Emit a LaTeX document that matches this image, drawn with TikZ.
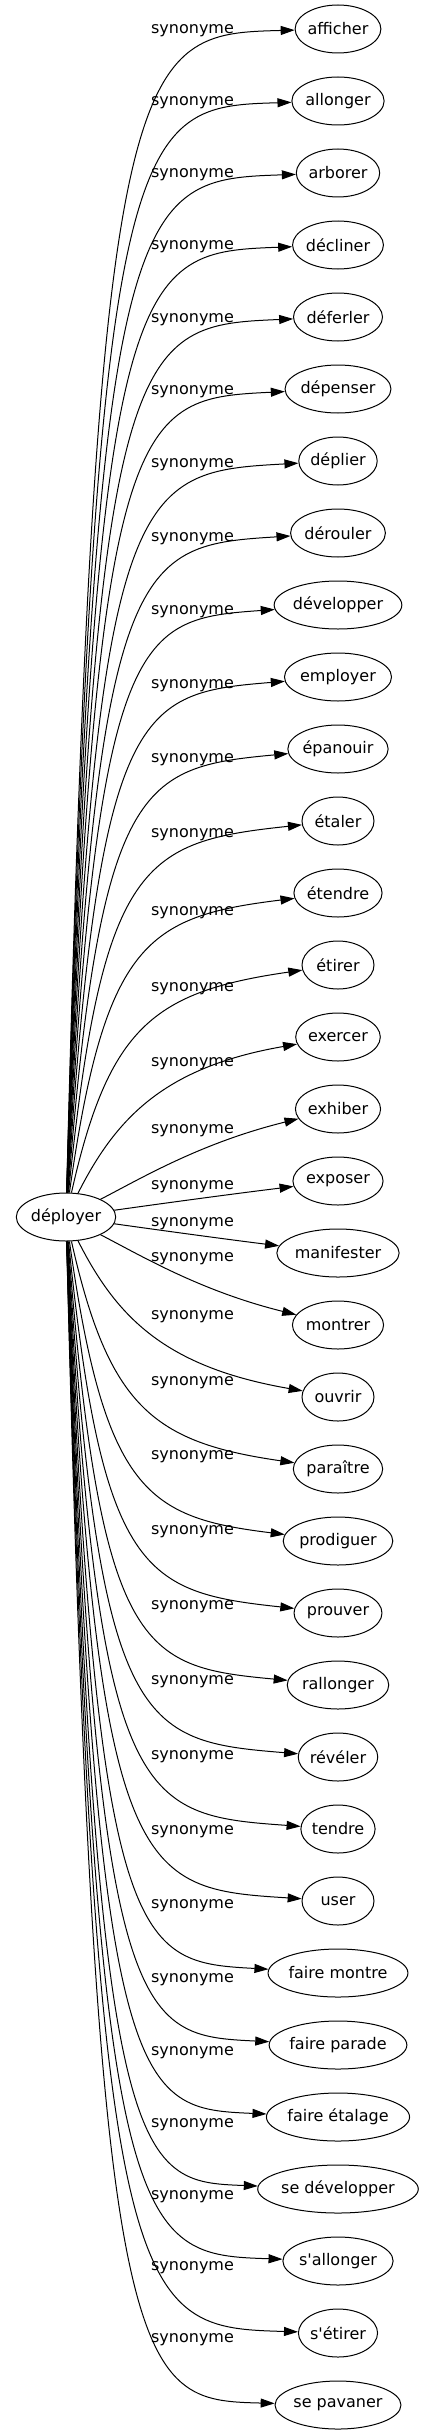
\documentclass[tikz,border=0pt]{standalone}
\usepackage{fontspec}
\setmainfont{DejaVu Sans}[Ligatures=TeXOff]
\usetikzlibrary{shapes.geometric,arrows.meta}

\newcommand\wordfont{\fontsize{16}{19}\selectfont}
\newsavebox\wordbox

\begin{document}
\begin{tikzpicture}[x=1pt,y=-1pt,->,>={Triangle[length=14pt,width=9pt]},line width=1pt,
    word node/.style={ellipse,draw,inner sep=0pt,minimum height=48pt,font=\wordfont},
    syn label/.style={inner sep=0pt,font=\wordfont}]

\useasboundingbox (0,0) rectangle (430,2435);

\sbox\wordbox{\wordfont déployer}
\pgfmathsetmacro\nodew{max(72,1.24*\the\wd\wordbox+31)}
\node[word node,minimum width=\nodew pt] (deployer) at (66,1217) {déployer};

\foreach \w/\ly [count=\i from 0] in {afficher/31, allonger/103, arborer/175,
    décliner/247, déferler/320, dépenser/392, déplier/465, dérouler/539,
    développer/612, employer/686, épanouir/760, étaler/835, étendre/913,
    étirer/989, exercer/1064, exhiber/1131, exposer/1187, manifester/1224,
    montrer/1259, ouvrir/1317, paraître/1383, prodiguer/1457, prouver/1532,
    rallonger/1607, révéler/1682, tendre/1757, user/1832, faire montre/1906,
    faire parade/1980, faire étalage/2053, se développer/2125,
    s'allonger/2197, s'étirer/2268, se pavaner/2340}{
  % word and its label
  \sbox\wordbox{\wordfont\w}
  \pgfmathsetmacro\nodew{max(72,1.24*\the\wd\wordbox+31)}
  \pgfmathsetmacro\yt{29+72*\i}
  \node[word node,minimum width=\nodew pt] (s\i) at (338,\yt) {\w};
  \node[syn label] (l\i) at (192.5,\ly) {synonyme};
  % bend of the edge
  \pgfmathsetmacro\kk{\i<17 ? 16-\i : \i-17}
  \pgfmathsetmacro\sg{\i<17 ? 1 : -1}
  \pgfmathsetmacro\xa{\kk==0 ? 180 : 93+47/max(\kk,1)}
  \pgfmathsetmacro\ya{\yt+\sg*(\kk==0 ? 20 : (\kk==1 ? 70 : 8+72*exp(-(\kk-2)/3.5)))}
  \pgfmathsetmacro\xb{\kk==0 ? 240 : 130+70/max(\kk,1)}
  \pgfmathsetmacro\yb{\yt+\sg*(\kk==0 ? 12 : 34*exp(-(\kk-1)/8))}
  \draw (deployer) .. controls (\xa,\ya) and (\xb,\yb) .. (s\i);
}

\end{tikzpicture}
\end{document}
